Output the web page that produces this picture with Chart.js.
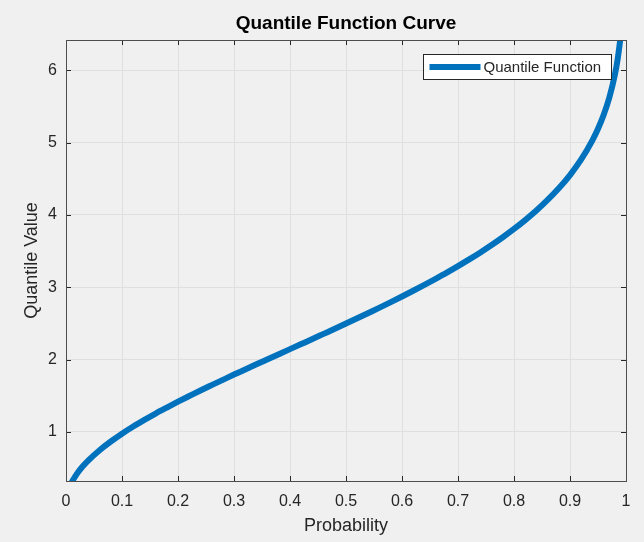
<!DOCTYPE html>
<html>
<head>
<meta charset="utf-8">
<title>Quantile Function Curve</title>
<script src="https://cdn.jsdelivr.net/npm/chart.js@4.4.1/dist/chart.umd.min.js"></script>
<style>
  html, body { margin: 0; padding: 0; background: #f0f0f0; }
  #wrap { width: 644px; height: 542px; position: relative; }
</style>
</head>
<body>
<div id="wrap"><canvas id="chart" width="644" height="542"></canvas></div>
<script>
// Probability levels and the matching quantile values of the curve
const probabilities = [0.01, 0.02, 0.03, 0.04, 0.06, 0.08, 0.10, 0.12, 0.14, 0.16, 0.18,
  0.20, 0.22, 0.24, 0.26, 0.28, 0.30, 0.32, 0.34, 0.36, 0.38, 0.40, 0.42, 0.44, 0.46,
  0.48, 0.50, 0.52, 0.54, 0.56, 0.58, 0.60, 0.62, 0.64, 0.66, 0.68, 0.70, 0.72, 0.74,
  0.76, 0.78, 0.80, 0.82, 0.84, 0.86, 0.88, 0.90, 0.92, 0.94, 0.95, 0.96, 0.97, 0.98,
  0.985, 0.99];
const quantileValues = [0.301, 0.426, 0.524, 0.606, 0.746, 0.866, 0.974, 1.073, 1.165,
  1.253, 1.336, 1.417, 1.495, 1.572, 1.646, 1.719, 1.792, 1.863, 1.934, 2.004, 2.074,
  2.144, 2.214, 2.284, 2.355, 2.426, 2.498, 2.570, 2.644, 2.718, 2.794, 2.872, 2.951,
  3.032, 3.116, 3.202, 3.292, 3.385, 3.482, 3.584, 3.692, 3.806, 3.929, 4.061, 4.207,
  4.368, 4.552, 4.768, 5.032, 5.192, 5.382, 5.618, 5.934, 6.148, 6.438];

// Axis ticks
const xTicks = [0, 0.1, 0.2, 0.3, 0.4, 0.5, 0.6, 0.7, 0.8, 0.9, 1];
const yTicks = [1, 2, 3, 4, 5, 6];
const xRange = [0, 1];
const yRange = [0.32, 6.42];

const chartTitle = 'Quantile Function Curve';
const seriesName = 'Quantile Function';
const lineColor = '#0072bd';
const axisColor = '#262626';
const gridColor = '#dfdfdf';
const fontFamily = '"Liberation Sans", Arial, Helvetica, sans-serif';

// Title centred over the plot box, box outline, inward tick marks and an in-plot legend
const framePlugin = {
  id: 'frame',
  afterDraw(chart) {
    const { ctx, chartArea: a, scales } = chart;
    ctx.save();

    ctx.fillStyle = '#000000';
    ctx.font = 'bold 19px ' + fontFamily;
    ctx.textAlign = 'center';
    ctx.textBaseline = 'middle';
    ctx.fillText(chartTitle, (a.left + a.right) / 2, 24);

    ctx.strokeStyle = axisColor;
    ctx.lineWidth = 1;
    const len = 5;
    ctx.beginPath();
    xTicks.forEach(v => {
      const x = Math.round(scales.x.getPixelForValue(v)) + 0.5;
      ctx.moveTo(x, a.bottom); ctx.lineTo(x, a.bottom - len);
      ctx.moveTo(x, a.top); ctx.lineTo(x, a.top + len);
    });
    yTicks.forEach(v => {
      const y = Math.round(scales.y.getPixelForValue(v)) + 0.5;
      ctx.moveTo(a.left, y); ctx.lineTo(a.left + len, y);
      ctx.moveTo(a.right, y); ctx.lineTo(a.right - len, y);
    });
    ctx.stroke();
    ctx.strokeStyle = '#4d4d4d';
    ctx.strokeRect(Math.round(a.left) + 0.5, Math.round(a.top) + 0.5,
      Math.round(a.right - a.left), Math.round(a.bottom - a.top));

    // legend box
    const bx = 423.5, by = 54.5, bw = 188, bh = 25;
    ctx.fillStyle = '#ffffff';
    ctx.fillRect(bx, by, bw, bh);
    ctx.strokeStyle = axisColor;
    ctx.lineWidth = 1;
    ctx.strokeRect(bx, by, bw, bh);
    ctx.strokeStyle = lineColor;
    ctx.lineWidth = 6;
    ctx.beginPath();
    ctx.moveTo(bx + 6, by + bh / 2);
    ctx.lineTo(bx + 57, by + bh / 2);
    ctx.stroke();
    ctx.fillStyle = axisColor;
    ctx.font = '15px ' + fontFamily;
    ctx.textBaseline = 'middle';
    ctx.textAlign = 'left';
    ctx.fillText(seriesName, bx + 60, by + bh / 2 + 1);
    ctx.restore();
  }
};

new Chart(document.getElementById('chart'), {
  type: 'line',
  data: {
    datasets: [{
      label: seriesName,
      data: probabilities.map((p, i) => ({ x: p, y: quantileValues[i] })),
      borderColor: lineColor,
      backgroundColor: lineColor,
      borderWidth: 6,
      pointRadius: 0,
      cubicInterpolationMode: 'monotone',
      clip: 0,
      fill: false
    }]
  },
  options: {
    responsive: false,
    animation: false,
    layout: { padding: { left: 0, right: 18, top: 40, bottom: 0 } },
    plugins: {
      legend: { display: false },
      tooltip: { enabled: false },
      title: { display: false }
    },
    scales: {
      x: {
        type: 'linear',
        min: xRange[0], max: xRange[1],
        afterBuildTicks: s => { s.ticks = xTicks.map(v => ({ value: v })); },
        afterFit: s => { s.height = 61; },
        grid: { color: gridColor, drawTicks: false },
        border: { display: false },
        ticks: {
          color: axisColor, padding: 11,
          font: { family: fontFamily, size: 16 },
          callback: v => String(v)
        },
        title: {
          display: true, text: 'Probability', color: axisColor,
          font: { family: fontFamily, size: 18 },
          padding: { top: 0, bottom: 5 }
        }
      },
      y: {
        type: 'linear',
        min: yRange[0], max: yRange[1],
        afterBuildTicks: s => { s.ticks = yTicks.map(v => ({ value: v })); },
        afterFit: s => { s.width = 66; },
        grid: { color: gridColor, drawTicks: false },
        border: { display: false },
        ticks: {
          color: axisColor, padding: 9,
          font: { family: fontFamily, size: 16 },
          callback: v => String(v)
        },
        title: {
          display: true, text: 'Quantile Value', color: axisColor,
          font: { family: fontFamily, size: 18 },
          padding: { top: 21, bottom: 0 }
        }
      }
    }
  },
  plugins: [framePlugin]
});
</script>
</body>
</html>
